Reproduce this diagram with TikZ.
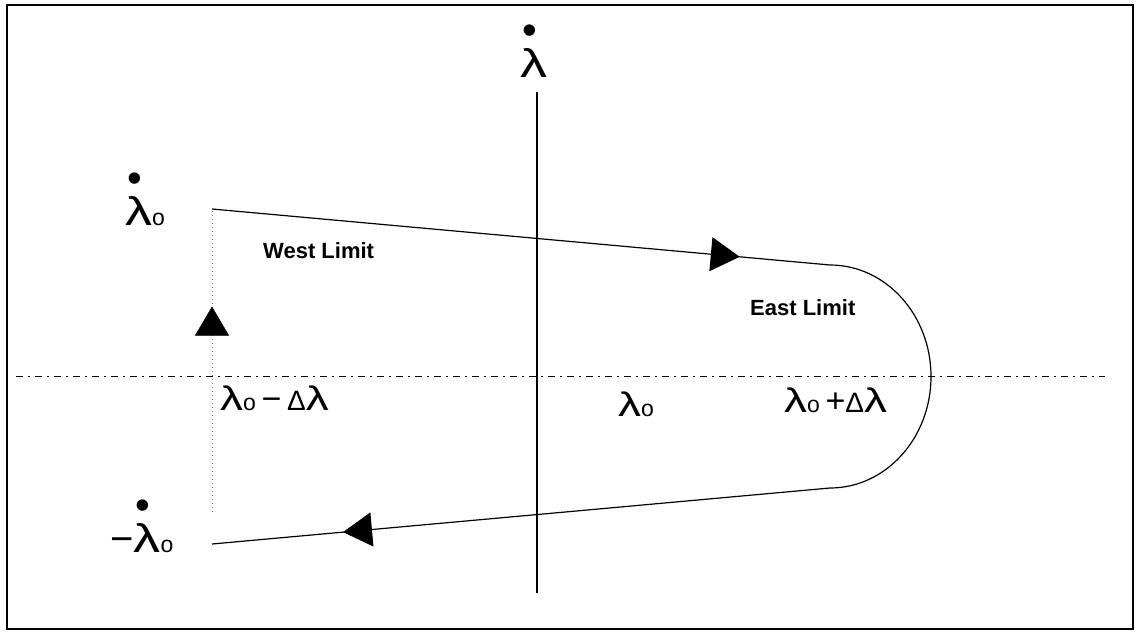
\documentclass[tikz,border=0pt]{standalone}
\usepackage{fontspec}
\setmainfont{Liberation Sans}
\usepackage{graphicx}
\usetikzlibrary{arrows.meta,decorations.markings}

\newcommand{\lam}{\scalebox{1.35}[1]{λ}}
\newcommand{\subo}{{\fontsize{23}{23}\selectfont o}}
\newcommand{\dlt}{{\fontsize{28}{28}\selectfont Δ}}
\newcommand{\lamdot}{\rlap{\hspace{2pt}\raisebox{33pt}{\fontsize{42}{42}\selectfont •}}\lam}

\begin{document}
\begin{tikzpicture}[
  x=1pt, y=-1pt,
  frame/.style={line width=2.4pt},
  axis/.style={line width=1.3pt},
  refline/.style={line width=.9pt, dash pattern=on 7pt off 5pt on 2pt off 5pt},
  guide/.style={line width=.8pt, gray, dash pattern=on 1pt off 3pt},
  orbit/.style={line width=1.2pt},
  midtri/.style={postaction={decorate}, decoration={markings,
    mark=at position #1 with {\arrow[black]{Triangle[length=29pt,width=34pt]}}}},
  dotlab/.style={inner sep=0pt, font=\fontsize{40}{40}\selectfont},
  axlab/.style={inner sep=0pt, font=\fontsize{34}{34}\selectfont},
  limit/.style={inner sep=0pt, font=\fontsize{22}{22}\selectfont\bfseries}
]
\useasboundingbox (0,0) rectangle (1139,632);
\draw[frame] (7,5) rectangle (1133,629);

% axes
\coordinate (ytop) at (537,92);
\coordinate (ybot) at (537,593);
\coordinate (xleft) at (16,376.5);
\coordinate (xright) at (1105,376.5);
\draw[axis] (ybot) -- (ytop);
\draw[refline] (xleft) -- (xright);

% limit cycle
\coordinate (wtop) at (212,209);
\coordinate (etop) at (830,265);
\coordinate (ebot) at (830,488);
\coordinate (wbot) at (212,544);
\coordinate (guideend) at (212,512);
\draw[guide] (guideend) -- (wtop);
\path[midtri=0.678] (guideend) -- (wtop);
\draw[orbit, midtri=0.854] (wtop) -- (etop);
\draw[orbit] (etop) arc[start angle=-90, end angle=90, x radius=101, y radius=111.5];
\draw[orbit, midtri=0.788] (ebot) -- (wbot);

% labels
\node[dotlab, anchor=base] (ydot) at (534,77) {\lamdot};
\node[dotlab, anchor=base west] (vmax) at (125,225) {\lamdot\subo};
\node[dotlab, anchor=base west] (vmin) at (110,552) {−\lamdot\subo};
\node[axlab, anchor=base west] (west) at (220,410) {\lam\subo\,−\,\dlt\lam};
\node[axlab, anchor=base west] (mid) at (618,416) {\lam\subo};
\node[axlab, anchor=base west] (east) at (784,412) {\lam\subo\,+\dlt\lam};
\node[limit, anchor=base west] (wlim) at (263,258) {West Limit};
\node[limit, anchor=base west] (elim) at (750,315) {East Limit};
\end{tikzpicture}
\end{document}
